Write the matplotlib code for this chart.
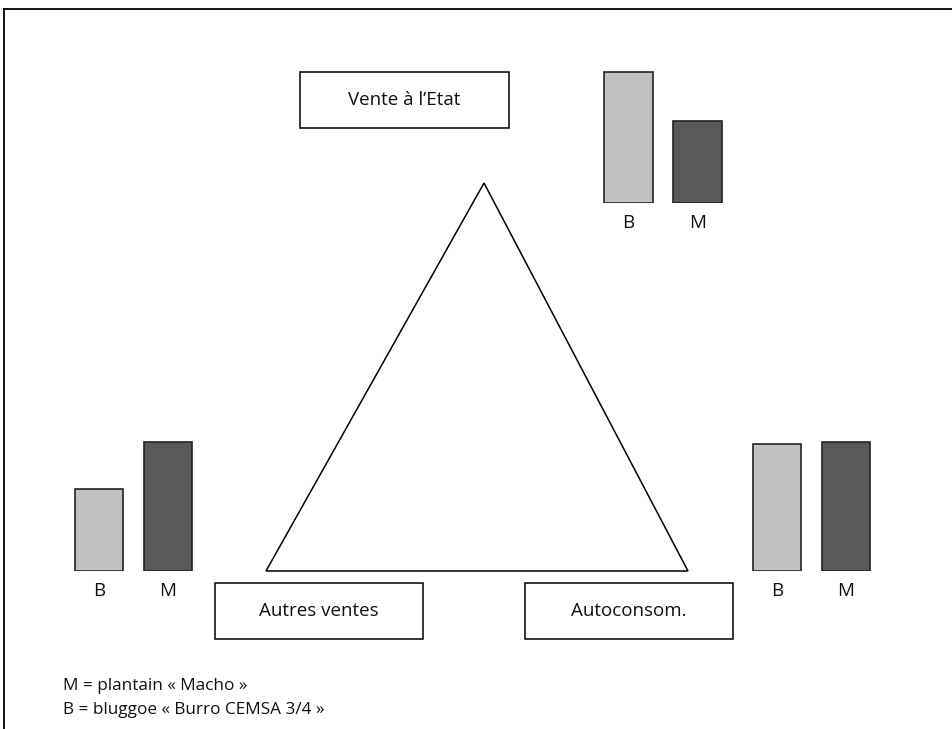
import matplotlib
matplotlib.use("Agg")
import matplotlib.pyplot as plt
from matplotlib.patches import Rectangle, Polygon

plt.rcParams['font.family'] = ['Open Sans', 'DejaVu Sans']

# share of each destination (%) for the two varieties
destinations = ["Vente à l’Etat", "Autres ventes", "Autoconsom."]
varieties = ["B", "M"]
share_B = [38.5, 24.0, 37.5]
share_M = [24.0, 38.0, 38.0]
legend_lines = ["M = plantain « Macho »", "B = bluggoe « Burro CEMSA 3/4 »"]

W, H = 952, 729
fig = plt.figure(figsize=(W / 100, H / 100), dpi=100)

# background layer in pixel coordinates
bg = fig.add_axes([0, 0, 1, 1])
bg.set_xlim(0, W)
bg.set_ylim(H, 0)
bg.axis('off')

# frame (only top and left edges are visible)
bg.plot([4, W], [9, 9], color='black', lw=1.3)
bg.plot([4, 4], [9, H], color='black', lw=1.3)

# triangle
bg.add_patch(Polygon([(484, 183), (266, 571), (688, 571)], closed=True,
                     fill=False, edgecolor='black', lw=1.1))

# destination boxes: (left, top, width, height)
boxes = [(300, 72, 209, 56), (215, 583, 208, 56), (525, 583, 208, 56)]
for name, (x0, y0, bw, bh) in zip(destinations, boxes):
    bg.add_patch(Rectangle((x0, y0), bw, bh, fill=False,
                           edgecolor='black', lw=1.1))
    bg.text(x0 + bw / 2, y0 + bh / 2, name, ha='center', va='center',
            fontsize=13.5, color='#111111')

for i, line in enumerate(legend_lines):
    bg.text(63, 686 + 24 * i, line, ha='left', va='center',
            fontsize=12.3, color='#111111')

# bar groups: (center of B bar in px, baseline in px)
groups = [(628.5, 203), (99, 571), (777, 571)]
ymax = 40.0
px_per_unit = 3.4
for k, (cx, base) in enumerate(groups):
    aw = 138
    ah = ymax * px_per_unit
    left = cx - 34.5
    ax = fig.add_axes([left / W, (H - base) / H, aw / W, ah / H])
    ax.bar([0, 1], [share_B[k], share_M[k]], width=0.71,
           color=['#c0c0c0', '#595959'], edgecolor='#222222', lw=1.2)
    ax.set_xlim(-0.5, 1.5)
    ax.set_ylim(0, ymax)
    ax.set_xticks([0, 1])
    ax.set_xticklabels(varieties, fontsize=13.5, color='#111111')
    ax.tick_params(axis='x', length=0, pad=8)
    ax.set_yticks([])
    for s in ax.spines.values():
        s.set_visible(False)
    ax.patch.set_alpha(0)

fig.savefig('out.png', dpi=100)
